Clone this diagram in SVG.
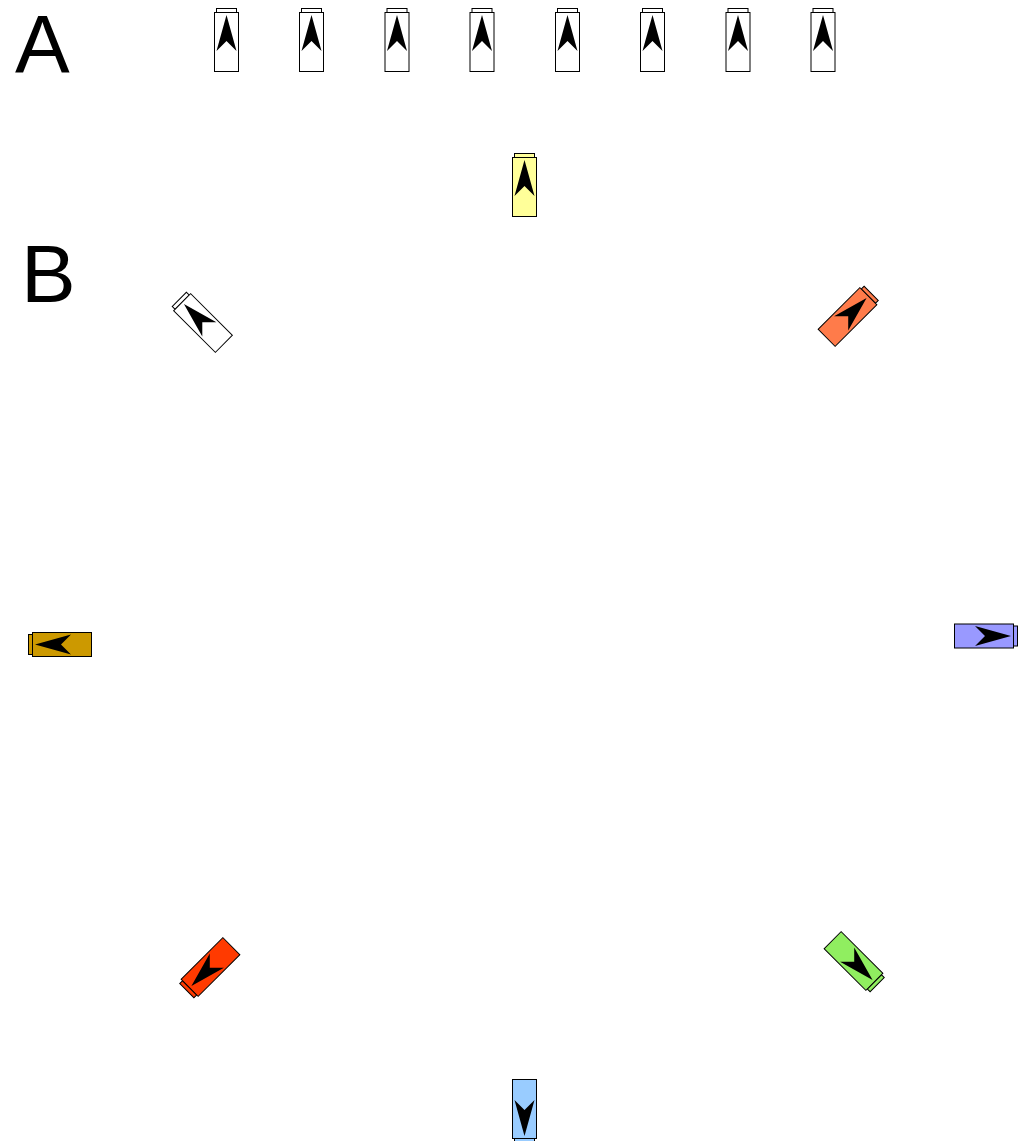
<svg xmlns="http://www.w3.org/2000/svg" xmlns:xlink="http://www.w3.org/1999/xlink" width="1024" height="1141" viewBox="0 0 1024 1141">
<defs>
<style>
.lbl{font-family:"Liberation Sans",Arial,sans-serif;font-size:82px;fill:#000}
.arr{fill:#000;stroke:none}
</style>
<g id="cell">
<rect x="-10" y="-33.5" width="20" height="4" fill="inherit" stroke="#000" stroke-width="1"/>
<rect x="-12" y="-29.5" width="24" height="59" fill="inherit" stroke="#000" stroke-width="1"/>
<path class="arr" d="M0,-27 L10,9 L0,-1 L-10,9 Z"/>
</g>
</defs>
<rect width="1024" height="1141" fill="#fff"/>
<text class="lbl" x="15" y="72">A</text>
<text class="lbl" x="21" y="302">B</text>
<g id="rowA" fill="#fff">
<use id="a1" xlink:href="#cell" transform="translate(226.5,42)"/>
<use id="a2" xlink:href="#cell" transform="translate(311.5,42)"/>
<use id="a3" xlink:href="#cell" transform="translate(397,42)"/>
<use id="a4" xlink:href="#cell" transform="translate(482,42)"/>
<use id="a5" xlink:href="#cell" transform="translate(567.5,42)"/>
<use id="a6" xlink:href="#cell" transform="translate(652.5,42)"/>
<use id="a7" xlink:href="#cell" transform="translate(738,42)"/>
<use id="a8" xlink:href="#cell" transform="translate(823,42)"/>
</g>
<g id="ringB">
<use id="b-n" xlink:href="#cell" fill="#ffff99" transform="translate(524.5,187)"/>
<use id="b-ne" xlink:href="#cell" fill="#ff7b4a" transform="translate(847.5,317) rotate(45)"/>
<use id="b-e" xlink:href="#cell" fill="#9999ff" transform="translate(984,636) rotate(90)"/>
<use id="b-se" xlink:href="#cell" fill="#90ee60" transform="translate(853.5,961) rotate(135)"/>
<use id="b-s" xlink:href="#cell" fill="#99ccff" transform="translate(524.5,1109) rotate(180)"/>
<use id="b-sw" xlink:href="#cell" fill="#ff3a00" transform="translate(210.5,967) rotate(225)"/>
<use id="b-w" xlink:href="#cell" fill="#cc9900" transform="translate(62,644.5) rotate(270)"/>
<use id="b-nw" xlink:href="#cell" fill="#fff" transform="translate(203,323) rotate(315)"/>
</g>
</svg>
